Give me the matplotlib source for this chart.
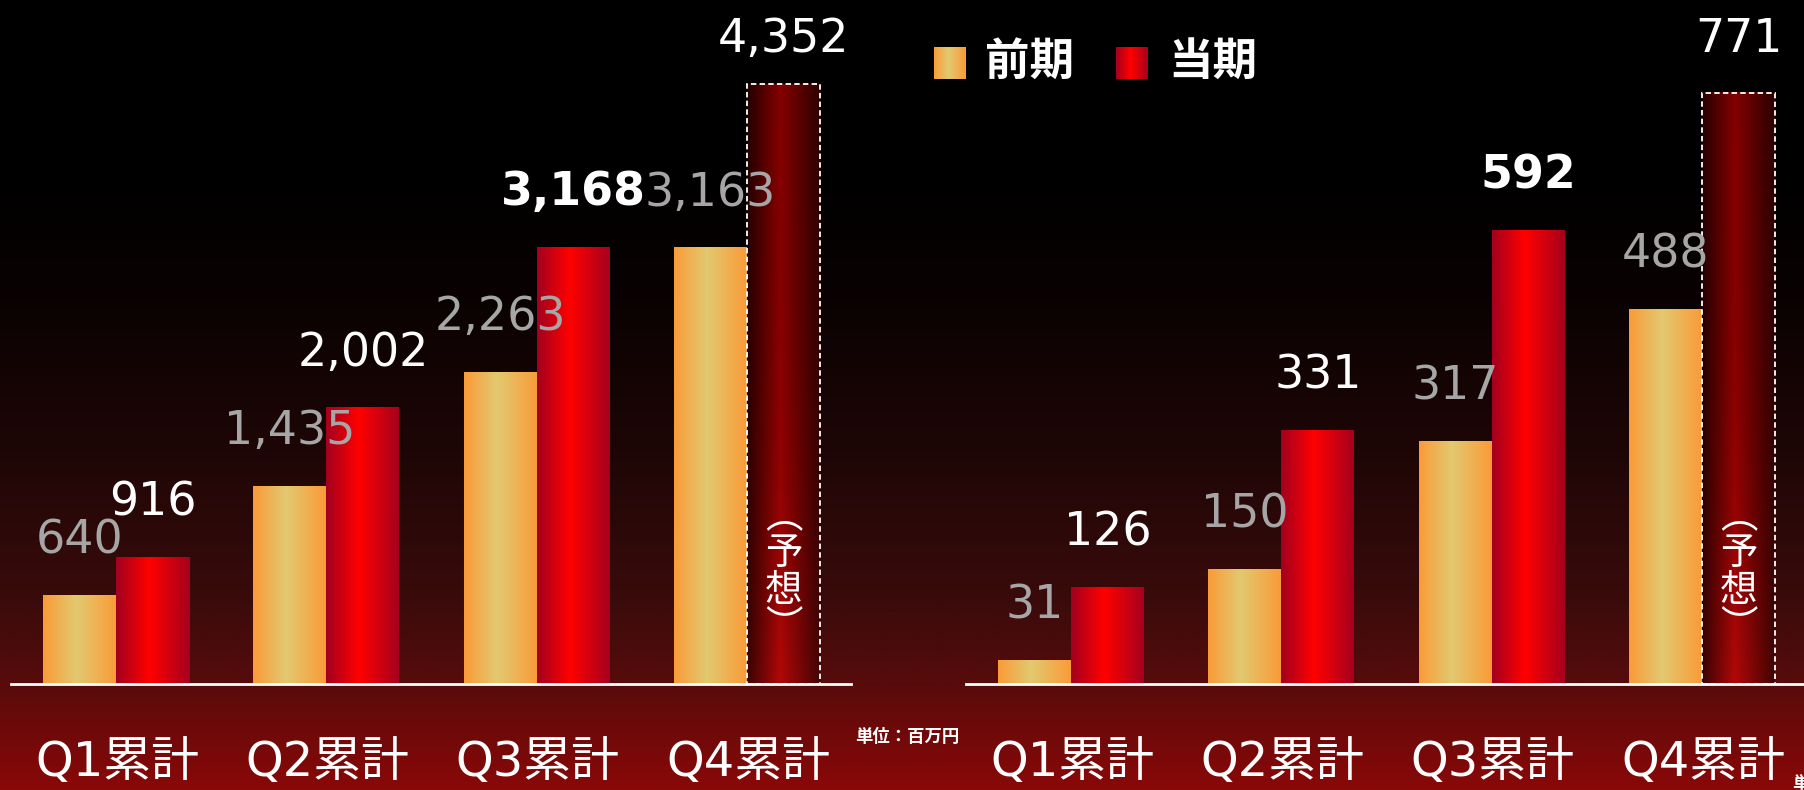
import numpy as np
import matplotlib
matplotlib.use("Agg")
import matplotlib.pyplot as plt
from matplotlib.colors import to_rgb

# ---------------- data ----------------
categories = ["Q1累計", "Q2累計", "Q3累計", "Q4累計"]
sales_prev = [640, 1435, 2263, 3163]
sales_curr = [916, 2002, 3168, 4352]
profit_prev = [31, 150, 317, 488]
profit_curr = [126, 331, 592, 771]
legend_labels = ["前期", "当期"]
forecast_text = "︵\n予\n想\n︶"
unit_text = "単位：百万円"
forecast_index = 3
bold_index = 2

W, H = 1804, 790
fig = plt.figure(figsize=(W / 100, H / 100), dpi=100)

CJK = ["Noto Sans CJK JP", "DejaVu Sans"]
LAT = ["DejaVu Sans", "Noto Sans CJK JP"]


def lerp_colors(stops, n):
    pos = np.array([s[0] for s in stops])
    cols = np.array([to_rgb(s[1]) for s in stops])
    t = np.linspace(0, 1, n)
    return np.stack([np.interp(t, pos, cols[:, k]) for k in range(3)], axis=-1)


# ---------------- background ----------------
bg = fig.add_axes([0, 0, 1, 1], zorder=-10)
bg_stops = [(0.0, "#000000"), (180 / 790, "#010000"), (300 / 790, "#0a0202"),
            (450 / 790, "#1e0606"), (600 / 790, "#3a0b0b"), (684 / 790, "#580b0b"),
            (1.0, "#8a0808")]
bg_img = lerp_colors(bg_stops, 400)[:, None, :]
bg.imshow(bg_img, aspect="auto", extent=[0, 1, 0, 1], origin="upper", interpolation="bilinear")
bg.set_xlim(0, 1)
bg.set_ylim(0, 1)
bg.axis("off")

orange_grad = lerp_colors([(0, "#fa9b38"), (0.45, "#e2c970"), (1, "#fa9b38")], 100)[None, :, :]
red_grad = lerp_colors([(0, "#a3001f"), (0.45, "#ff0000"), (1, "#a6001e")], 100)[None, :, :]

# forecast gradient (horizontal dark-bright-dark, brighter at bottom)
M, N = 120, 100
fc = np.zeros((M, N, 3))
for r in range(M):
    t = r / (M - 1)
    tt = t ** 2.5
    edge_l = np.array(to_rgb("#240000")) * (1 - tt) + np.array(to_rgb("#3a0303")) * tt
    edge_r = np.array(to_rgb("#2c0000")) * (1 - tt) + np.array(to_rgb("#420404")) * tt
    center = np.array(to_rgb("#850000")) * (1 - tt) + np.array(to_rgb("#b20808")) * tt
    xs = np.linspace(0, 1, N)
    for k in range(3):
        fc[r, :, k] = np.interp(xs, [0, 0.45, 1], [edge_l[k], center[k], edge_r[k]])

BASE = 684  # baseline pixel row from top
BAR_W_PX = 73
GROUP_PX = 210.3


def make_chart(x0, x1, prev, curr, px_per_unit, forecast_gap):
    ax = fig.add_axes([x0 / W, (H - BASE) / H, (x1 - x0) / W, BASE / H])
    ax.set_facecolor("none")
    ax.axis("off")
    xl = -0.5
    xr = xl + (x1 - x0) / GROUP_PX
    ytop = BASE / px_per_unit
    w = BAR_W_PX / GROUP_PX
    x = np.arange(len(categories))

    bp = ax.bar(x - w / 2, prev, w, color="none", edgecolor="none")
    bc = ax.bar(x + w / 2, curr, w, color="none", edgecolor="none")
    for b in bp:
        ax.imshow(orange_grad, aspect="auto", interpolation="bilinear", zorder=2,
                  extent=[b.get_x(), b.get_x() + b.get_width(), 0, b.get_height()])
    for i, b in enumerate(bc):
        g = fc if i == forecast_index else red_grad
        ax.imshow(g, aspect="auto", interpolation="bilinear", zorder=2,
                  extent=[b.get_x(), b.get_x() + b.get_width(), 0, b.get_height()])
        if i == forecast_index:
            ax.bar(b.get_x() + b.get_width() / 2, curr[i], w, color="none",
                   edgecolor="white", linewidth=1.3, linestyle=(0, (3, 1.8)), zorder=4)
            ax.annotate(forecast_text, xy=(i + w / 2, 0), xytext=(0, 112),
                        textcoords="offset pixels", ha="center", va="center",
                        fontsize=27, color="white", family=CJK, linespacing=0.92, zorder=5)

    # value labels
    for i, v in enumerate(prev):
        ax.annotate(f"{v:,}", xy=(i - w / 2, v), xytext=(0, 42), textcoords="offset pixels",
                    ha="center", va="baseline", fontsize=33, color="#a6a6a6",
                    family=LAT, zorder=6, annotation_clip=False)
    for i, v in enumerate(curr):
        gap = forecast_gap if i == forecast_index else 42
        ax.annotate(f"{v:,}", xy=(i + w / 2, v), xytext=(0, gap), textcoords="offset pixels",
                    ha="center", va="baseline", fontsize=33, color="white",
                    fontweight="bold" if i == bold_index else "normal",
                    family=LAT, zorder=7, annotation_clip=False)

    # category labels
    for i, c in enumerate(categories):
        ax.annotate(c, xy=(i, 0), xytext=(1, -78), textcoords="offset pixels",
                    ha="center", va="center", fontsize=34.5, color="white",
                    family=LAT, annotation_clip=False)

    ax.axhline(0, color="white", linewidth=2, zorder=8, clip_on=False)
    ax.set_xlim(xl, xr)
    ax.set_ylim(0, ytop)
    return ax


make_chart(11, 851, sales_prev, sales_curr, 600 / 4352, 32)
make_chart(966, 1804, profit_prev, profit_curr, 591 / 771, 41)

# ---------------- legend ----------------
for (sx, tx), grad, lab in [((934, 985), orange_grad, legend_labels[0]),
                            ((1116, 1168), red_grad, legend_labels[1])]:
    lax = fig.add_axes([sx / W, (H - 79) / H, 32 / W, 32 / H])
    lax.imshow(grad, aspect="auto", interpolation="bilinear", extent=[0, 1, 0, 1])
    lax.axis("off")
    fig.text(tx / W, (H - 62) / H, lab, ha="left", va="center", fontsize=32,
             fontweight="bold", color="white", family=CJK)

# unit labels (the second one runs off the right edge, as in the original slide)
fig.text(855 / W, (H - 737) / H, unit_text, ha="left", va="center", fontsize=12.5,
         fontweight="bold", color="white", family=CJK)
fig.text(1792 / W, (H - 784) / H, unit_text, ha="left", va="center", fontsize=12.5,
         fontweight="bold", color="white", family=CJK)

fig.savefig("out.png", dpi=100)
